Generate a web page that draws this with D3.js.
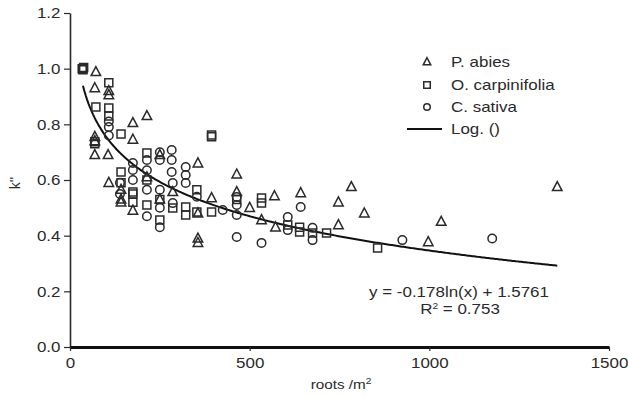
<!DOCTYPE html>
<html>
<head>
<meta charset="utf-8">
<script src="https://cdn.jsdelivr.net/npm/d3@7"></script>
<style>
  html, body { margin: 0; padding: 0; background: #fff; }
  svg { display: block; }
  text { font-family: "Liberation Sans", Arial, sans-serif; fill: #2a2a2a; }
</style>
</head>
<body>
<svg id="chart" width="628" height="397"></svg>
<script>
// Decomposition rate k'' against root density, three tree species
const abiesX = [72, 69, 108, 108, 69, 69, 69, 106, 108, 175, 214, 175, 142, 142, 142, 175, 250, 356, 356, 356, 356, 286, 394, 464, 464, 500, 533, 569, 572, 642, 747, 747, 783, 819, 997, 1033, 1356, 214, 250];
const abiesY = [0.988, 0.93, 0.92, 0.905, 0.755, 0.74, 0.69, 0.69, 0.59, 0.805, 0.83, 0.745, 0.565, 0.53, 0.52, 0.49, 0.69, 0.66, 0.39, 0.374, 0.48, 0.557, 0.535, 0.62, 0.557, 0.50, 0.456, 0.542, 0.43, 0.553, 0.52, 0.438, 0.575, 0.48, 0.377, 0.45, 0.575, 0.61, 0.53];

const carpX = [34, 36, 38, 36, 108, 72, 108, 108, 69, 69, 142, 394, 394, 142, 142, 175, 175, 175, 214, 214, 214, 250, 286, 322, 353, 353, 394, 533, 533, 639, 639, 606, 714, 856, 464, 322, 250, 675];
const carpY = [1.0, 0.996, 1.004, 1.0, 0.949, 0.862, 0.859, 0.83, 0.737, 0.73, 0.765, 0.762, 0.755, 0.629, 0.59, 0.557, 0.55, 0.52, 0.697, 0.60, 0.51, 0.456, 0.499, 0.503, 0.565, 0.485, 0.485, 0.535, 0.517, 0.43, 0.413, 0.438, 0.41, 0.356, 0.53, 0.474, 0.53, 0.41];

const sativaX = [36, 108, 108, 175, 175, 175, 214, 214, 214, 214, 250, 250, 250, 250, 250, 283, 283, 283, 286, 286, 322, 322, 322, 353, 425, 464, 464, 464, 464, 533, 606, 606, 642, 675, 675, 925, 1175, 139, 139, 108];
const sativaY = [1.0, 0.79, 0.76, 0.661, 0.636, 0.60, 0.672, 0.635, 0.565, 0.47, 0.70, 0.672, 0.565, 0.50, 0.43, 0.708, 0.672, 0.629, 0.589, 0.517, 0.647, 0.618, 0.589, 0.54, 0.492, 0.539, 0.51, 0.474, 0.395, 0.374, 0.467, 0.42, 0.503, 0.428, 0.384, 0.384, 0.39, 0.59, 0.55, 0.81];

// Logarithmic fit y = a ln(x) + b
const fitA = -0.178, fitB = 1.5761, fitR2 = 0.753;
const fitRange = [36, 1356];

const xTicks = [0, 500, 1000, 1500];
const yTicks = [0.0, 0.2, 0.4, 0.6, 0.8, 1.0, 1.2];

const legendNames = ["P. abies", "O. carpinifolia", "C. sativa", "Log. ()"];

const svg = d3.select("#chart");
const x = d3.scaleLinear().domain([0, 1500]).range([70, 609]);
const y = d3.scaleLinear().domain([0, 1.2]).range([347, 13]);

const ink = "#2a2a2a";
const FS = 15;        // font size
const SX = 1.13;      // horizontal stretch of the type

// Place a stretched text at (px, py)
function label(px, py, anchor, size) {
  return svg.append("text")
    .attr("transform", `translate(${px},${py}) scale(${SX},1)`)
    .attr("text-anchor", anchor).attr("font-size", size || FS);
}

// Marker shapes, outline only
function triPath(s) { const h = s * 0.95; return `M0,${-h*0.6}L${s/2},${h*0.4}L${-s/2},${h*0.4}Z`; }
function sqPath(s) { const r = s / 2; return `M${-r},${-r}H${r}V${r}H${-r}Z`; }
function circPath(s) { const r = s / 2; return `M${r},0A${r},${r} 0 1,1 ${-r},0A${r},${r} 0 1,1 ${r},0Z`; }

const series = [
  { xs: abiesX, ys: abiesY, shape: triPath, size: 9.5 },
  { xs: carpX, ys: carpY, shape: sqPath, size: 8 },
  { xs: sativaX, ys: sativaY, shape: circPath, size: 8.5 }
];

// Y axis
const yAxis = d3.axisLeft(y).tickValues(yTicks).tickFormat(d3.format(".1f")).tickSize(6).tickSizeOuter(0);
const gy = svg.append("g").attr("transform", "translate(70,0)").call(yAxis);
gy.select(".domain").attr("stroke", ink).attr("stroke-width", 1.6);
gy.selectAll(".tick line").attr("stroke", ink).attr("stroke-width", 1.2);
gy.selectAll(".tick text").attr("x", -9.5 / SX).attr("transform", `scale(${SX},1)`)
  .attr("font-size", FS).style("font-family", "Liberation Sans, Arial, sans-serif").attr("fill", ink);

// X axis
const xAxis = d3.axisBottom(x).tickValues(xTicks).tickFormat(d3.format("d")).tickSize(4).tickSizeOuter(0);
const gx = svg.append("g").attr("transform", "translate(0,347)").call(xAxis);
gx.select(".domain").attr("stroke", "#111").attr("stroke-width", 3);
gx.selectAll(".tick line").attr("stroke", ink).attr("stroke-width", 1.2);
gx.selectAll(".tick text").attr("y", 10).attr("font-size", FS)
  .style("font-family", "Liberation Sans, Arial, sans-serif").attr("fill", ink)
  .each(function () {
    // stretch each label around its own tick
    d3.select(this).attr("transform", `scale(${SX},1)`);
  });

// Axis titles
const xt = label(341, 389, "middle", 13.5);
xt.append("tspan").text("roots /m");
xt.append("tspan").attr("dy", -5).attr("font-size", 9).text("2");

svg.append("text").attr("transform", "translate(20,183) rotate(-90)").attr("text-anchor", "middle")
  .attr("font-size", 14).text("k''");

// Fit curve
const curvePts = d3.range(fitRange[0], fitRange[1] + 1, 4).map(v => [v, fitA * Math.log(v) + fitB]);
svg.append("path").datum(curvePts)
  .attr("d", d3.line().x(d => x(d[0])).y(d => y(d[1])))
  .attr("fill", "none").attr("stroke", "#111").attr("stroke-width", 2);

// Points
series.forEach(s => {
  svg.append("g").selectAll("path").data(s.xs.map((v, i) => [v, s.ys[i]])).join("path")
    .attr("transform", d => `translate(${x(d[0])},${y(d[1])})`)
    .attr("d", s.shape(s.size))
    .attr("fill", "none").attr("stroke", ink).attr("stroke-width", 1.5);
});

// Equation
label(459, 297, "middle").text("y = -0.178ln(x)  + 1.5761");
const r2 = label(460, 314, "middle");
r2.append("tspan").text("R");
r2.append("tspan").attr("dy", -5).attr("font-size", 9).text("2");
r2.append("tspan").attr("dy", 5).text(" = " + fitR2);

// Legend
const legendY = [62, 85, 107, 129];
[triPath, sqPath, circPath].forEach((f, i) => {
  svg.append("path").attr("transform", `translate(427,${legendY[i]})`).attr("d", f(i === 0 ? 7.5 : 6.5))
    .attr("fill", "none").attr("stroke", ink).attr("stroke-width", 1.5);
});
svg.append("line").attr("x1", 407).attr("x2", 442).attr("y1", legendY[3]).attr("y2", legendY[3])
  .attr("stroke", "#111").attr("stroke-width", 2);
legendNames.forEach((n, i) => {
  label(451, legendY[i] + 5, "start").text(n);
});
</script>
</body>
</html>
